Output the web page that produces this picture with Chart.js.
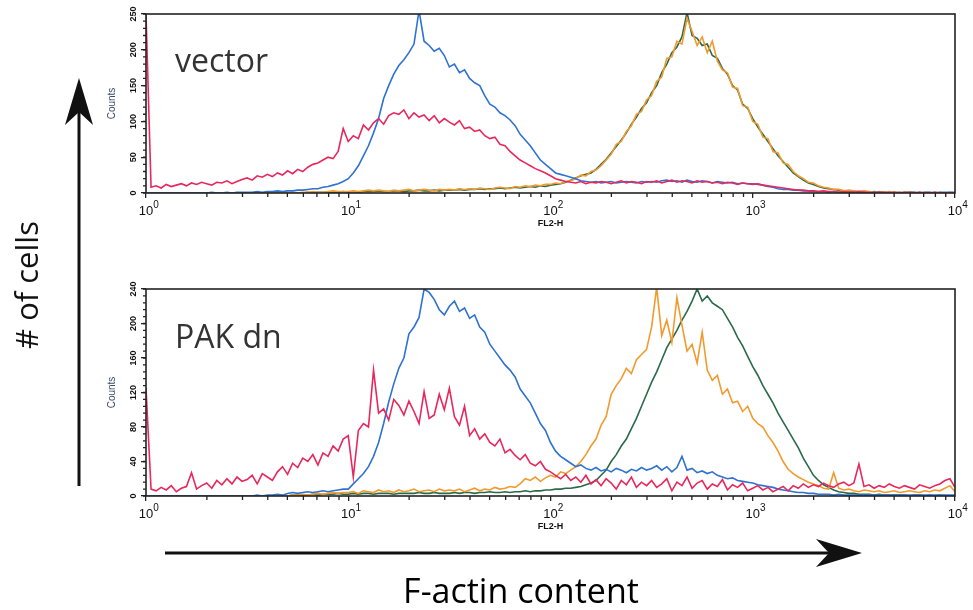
<!DOCTYPE html>
<html>
<head>
<meta charset="utf-8">
<script src="https://cdn.jsdelivr.net/npm/chart.js@4.4.1/dist/chart.umd.min.js"></script>
<style>
  html, body { margin: 0; padding: 0; background: #fff; }
  #page { position: relative; width: 973px; height: 610px; overflow: hidden; }
  canvas { position: absolute; left: 0; }
  #chart-vector { top: 0; }
  #chart-pak { top: 275px; }
  #overlay { position: absolute; left: 0; top: 0; pointer-events: none; }
  #overlay text { font-family: "Open Sans", "DejaVu Sans", sans-serif; }
</style>
</head>
<body>
<div id="page">
  <canvas id="chart-vector" width="973" height="232"></canvas>
  <canvas id="chart-pak" width="973" height="262"></canvas>
  <svg id="overlay" width="973" height="610" xmlns="http://www.w3.org/2000/svg">
    <text x="175" y="72" font-size="32" fill="#333">vector</text>
    <text x="175" y="348" font-size="32" fill="#333">PAK dn</text>
    <text transform="translate(38,285) rotate(-90)" text-anchor="middle" font-size="31" fill="#111"># of cells</text>
    <text x="521" y="603" text-anchor="middle" font-size="34" fill="#000">F-actin content</text>
    <line x1="79" y1="486" x2="79" y2="108" stroke="#111" stroke-width="3"/>
    <path d="M79,78 L93,125 L79,112 L65,125 Z" fill="#111"/>
    <line x1="165" y1="553" x2="835" y2="553" stroke="#111" stroke-width="3"/>
    <path d="M862,553 L816,539 L829,553 L816,567 Z" fill="#111"/>
  </svg>
</div>
<script>
// FL2-H histograms, 40 channels per decade, channel 0 = 10^0 ... channel 160 = 10^4
var CHANNELS_PER_DECADE = 40;
var N_CHANNELS = 161;
var DECADE_EXPONENTS = ['0', '1', '2', '3', '4'];

// vector panel (counts 0-250)
var vectorRed = [
  250, 8, 10, 7, 12, 9, 11, 13, 10, 14, 12, 15, 13, 11, 15, 14, 17, 13, 16, 19,
  21, 18, 24, 22, 26, 23, 28, 25, 31, 27, 33, 30, 36, 40, 42, 46, 50, 48, 58, 90,
  72, 80, 76, 95, 88, 98, 104, 96, 108, 112, 110, 116, 104, 112, 106, 109, 101, 108, 98, 104,
  99, 95, 101, 90, 92, 86, 88, 80, 76, 78, 68, 66, 58, 52, 46, 42, 38, 34, 31, 28,
  24, 20, 18, 16, 15, 14, 16, 13, 15, 14, 16, 15, 13, 15, 17, 14, 16, 15, 13, 16,
  15, 17, 14, 16, 18, 15, 17, 16, 14, 17, 15, 16, 14, 15, 13, 15, 14, 12, 14, 13,
  12, 13, 11, 10, 9, 8, 7, 6, 5, 4, 4, 3, 3, 2, 3, 2, 2, 1, 2, 1,
  1, 2, 1, 1, 0, 1, 1, 0, 1, 0, 1, 0, 0, 1, 0, 0, 1, 0, 0, 0,
  0
];
var vectorBlue = [
  0, 0, 0, 0, 0, 0, 0, 0, 0, 0, 0, 0, 0, 1, 0, 0, 1, 0, 1, 1,
  1, 1, 2, 1, 2, 2, 3, 2, 3, 3, 4, 4, 5, 6, 6, 8, 9, 11, 13, 16,
  20, 28, 38, 52, 66, 84, 104, 132, 150, 166, 178, 186, 196, 208, 255, 212, 206, 198, 202, 192,
  176, 180, 168, 172, 160, 154, 150, 136, 124, 120, 112, 108, 102, 94, 82, 74, 66, 56, 46, 40,
  34, 28, 26, 24, 22, 20, 17, 16, 15, 16, 14, 15, 16, 14, 15, 16, 15, 14, 16, 15,
  16, 15, 17, 18, 16, 17, 15, 18, 16, 15, 17, 16, 14, 16, 15, 14, 15, 13, 14, 13,
  13, 12, 11, 9, 8, 6, 5, 5, 4, 4, 3, 3, 2, 2, 2, 1, 2, 1, 1, 1,
  1, 1, 1, 0, 1, 1, 0, 1, 0, 1, 0, 1, 1, 0, 1, 1, 0, 1, 1, 1,
  1
];
var vectorOrange = [
  0, 0, 0, 0, 0, 0, 0, 0, 0, 0, 0, 0, 0, 0, 0, 0, 0, 0, 0, 0,
  0, 0, 0, 0, 0, 0, 0, 0, 0, 1, 0, 1, 1, 2, 1, 1, 2, 3, 2, 2,
  2, 3, 2, 3, 4, 3, 4, 3, 2, 4, 3, 4, 5, 3, 4, 5, 4, 3, 5, 4,
  5, 4, 6, 5, 6, 5, 7, 6, 5, 7, 8, 7, 6, 9, 8, 10, 9, 11, 10, 12,
  12, 14, 13, 16, 17, 20, 25, 24, 30, 32, 38, 46, 54, 68, 72, 86, 94, 110, 114, 130,
  136, 156, 162, 188, 190, 212, 208, 244, 226, 206, 218, 196, 212, 184, 172, 168, 148, 146, 122, 120,
  100, 96, 78, 76, 58, 56, 42, 40, 30, 24, 20, 15, 14, 10, 8, 7, 5, 5, 3, 4,
  3, 2, 3, 2, 1, 2, 1, 2, 1, 1, 0, 2, 1, 0, 1, 1, 0, 1, 0, 1,
  0
];
var vectorGreen = [
  0, 0, 0, 0, 0, 0, 0, 0, 0, 0, 0, 0, 0, 0, 0, 0, 0, 0, 0, 0,
  0, 0, 0, 0, 0, 0, 0, 0, 0, 0, 0, 0, 1, 0, 1, 1, 1, 1, 1, 2,
  1, 2, 1, 2, 2, 2, 3, 2, 2, 3, 3, 2, 3, 3, 4, 3, 3, 4, 3, 4,
  4, 4, 5, 4, 5, 5, 6, 5, 6, 6, 7, 6, 7, 8, 7, 8, 9, 8, 10, 9,
  11, 12, 13, 15, 18, 21, 24, 26, 28, 33, 40, 47, 56, 65, 74, 84, 96, 106, 118, 126,
  140, 150, 168, 180, 196, 204, 218, 252, 220, 216, 206, 208, 192, 188, 174, 166, 150, 144, 124, 118,
  104, 92, 82, 72, 62, 52, 44, 36, 28, 23, 18, 14, 12, 9, 7, 6, 5, 4, 3, 3,
  2, 2, 2, 1, 2, 1, 1, 1, 1, 0, 1, 1, 0, 1, 0, 0, 1, 0, 0, 0,
  0
];

// PAK dn panel (counts 0-240)
var pakRed = [
  125, 8, 6, 10, 7, 12, 5, 9, 11, 27, 8, 12, 15, 9, 18, 13, 20, 14, 22, 17,
  19, 24, 14, 26, 22, 18, 28, 34, 25, 38, 33, 44, 40, 48, 36, 50, 46, 58, 52, 66,
  70, 22, 76, 84, 80, 146, 96, 101, 88, 112, 105, 94, 110, 98, 84, 121, 90, 94, 118, 100,
  125, 92, 82, 104, 70, 78, 66, 72, 62, 58, 66, 50, 54, 47, 42, 48, 38, 35, 40, 31,
  28, 24, 20, 25, 18, 22, 16, 24, 14, 19, 12, 20, 15, 8, 18, 13, 22, 10, 16, 12,
  18, 10, 14, 20, 6, 16, 12, 22, 9, 15, 18, 8, 14, 11, 19, 7, 13, 10, 15, 6,
  9, 12, 7, 10, 5, 8, 11, 6, 12, 9, 14, 10, 13, 11, 15, 12, 10, 14, 16, 12,
  15, 37, 11, 13, 9, 12, 10, 14, 11, 9, 12, 10, 8, 13, 11, 9, 12, 14, 18, 20,
  10
];
var pakBlue = [
  0, 0, 0, 0, 0, 0, 0, 0, 0, 0, 0, 0, 0, 0, 0, 0, 0, 0, 0, 0,
  0, 0, 1, 0, 1, 1, 2, 1, 3, 4, 3, 4, 5, 4, 5, 6, 5, 6, 7, 8,
  8, 14, 20, 26, 34, 46, 62, 84, 109, 130, 148, 160, 188, 196, 207, 240, 236, 228, 216, 210,
  220, 226, 214, 218, 206, 210, 196, 190, 176, 168, 160, 152, 146, 138, 124, 116, 108, 96, 84, 76,
  62, 52, 46, 42, 38, 34, 36, 32, 30, 33, 29, 31, 28, 32, 30, 27, 31, 29, 33, 30,
  32, 35, 30, 34, 28, 33, 46, 30, 32, 27, 29, 26, 28, 24, 22, 20, 21, 18, 17, 16,
  15, 13, 12, 11, 10, 8, 7, 6, 5, 4, 4, 3, 3, 2, 2, 2, 1, 2, 1, 1,
  1, 1, 1, 1, 1, 1, 1, 1, 1, 1, 1, 1, 1, 1, 1, 1, 1, 1, 1, 1,
  1
];
var pakOrange = [
  0, 0, 0, 0, 0, 0, 0, 0, 0, 0, 0, 0, 0, 0, 0, 0, 0, 0, 0, 0,
  0, 0, 0, 0, 0, 0, 0, 1, 0, 1, 1, 2, 1, 2, 3, 2, 3, 4, 3, 4,
  4, 5, 3, 6, 5, 4, 7, 5, 6, 4, 7, 5, 6, 8, 5, 6, 7, 5, 8, 6,
  7, 6, 8, 5, 7, 9, 6, 8, 7, 10, 8, 9, 11, 10, 14, 20, 18, 22, 17, 21,
  24, 22, 28, 26, 30, 34, 40, 48, 58, 66, 82, 92, 118, 128, 136, 148, 142, 158, 164, 170,
  196, 242, 186, 204, 178, 230, 198, 168, 176, 154, 190, 146, 134, 140, 118, 124, 108, 110, 98, 104,
  90, 84, 80, 70, 62, 52, 40, 31, 26, 22, 19, 16, 14, 12, 9, 8, 27, 9, 7, 8,
  6, 5, 7, 6, 5, 6, 4, 5, 6, 4, 5, 6, 5, 4, 6, 5, 7, 6, 9, 12,
  5
];
var pakGreen = [
  0, 0, 0, 0, 0, 0, 0, 0, 0, 0, 0, 0, 0, 0, 0, 0, 0, 0, 0, 0,
  0, 0, 0, 0, 0, 0, 0, 0, 0, 1, 1, 1, 1, 2, 1, 2, 2, 2, 3, 2,
  2, 3, 2, 3, 3, 2, 3, 3, 3, 2, 3, 3, 3, 3, 4, 3, 3, 4, 3, 3,
  3, 4, 3, 4, 4, 3, 4, 4, 5, 4, 4, 5, 4, 5, 5, 6, 5, 6, 6, 7,
  7, 8, 8, 9, 9, 10, 11, 13, 15, 18, 24, 30, 40, 48, 58, 66, 78, 90, 104, 118,
  132, 144, 158, 172, 182, 192, 204, 214, 226, 240, 226, 232, 224, 220, 216, 206, 196, 184, 174, 162,
  150, 140, 128, 118, 108, 96, 86, 76, 66, 56, 44, 34, 24, 18, 13, 10, 7, 5, 4, 3,
  3, 2, 2, 2, 1, 2, 1, 1, 1, 1, 1, 0, 1, 1, 0, 1, 0, 1, 0, 0,
  0
];

var COLORS = { red: '#e8285c', blue: '#2e72d2', orange: '#f29a2e', green: '#2b6a48' };

var channels = [];
for (var c = 0; c < N_CHANNELS; c++) channels.push(c);

// frame, minor ticks, rotated count labels, 10^n labels
var flowAxesPlugin = {
  id: 'flowAxes',
  afterDraw: function (chart) {
    var ctx = chart.ctx;
    var area = chart.chartArea;
    var xs = chart.scales.x;
    var ys = chart.scales.y;
    var minorStep = chart.options.plugins.flowAxes.minorStep;
    ctx.save();
    ctx.strokeStyle = '#222';
    ctx.lineWidth = 1.6;
    ctx.strokeRect(area.left, area.top, area.right - area.left, area.bottom - area.top);

    // minor x ticks at 2..9 in each decade
    ctx.lineWidth = 1.3;
    ctx.beginPath();
    for (var d = 0; d < 4; d++) {
      for (var k = 2; k <= 9; k++) {
        var px = xs.getPixelForValue((d + Math.log10(k)) * CHANNELS_PER_DECADE);
        ctx.moveTo(px, area.bottom);
        ctx.lineTo(px, area.bottom + 4);
      }
    }
    // minor y ticks
    for (var v = 0; v <= ys.max; v += minorStep) {
      var py = ys.getPixelForValue(v);
      ctx.moveTo(area.left, py);
      ctx.lineTo(area.left - 3, py);
    }
    ctx.stroke();

    // x labels 10^n
    ctx.fillStyle = '#111';
    ctx.textBaseline = 'alphabetic';
    xs.ticks.forEach(function (t) {
      var px = xs.getPixelForValue(t.value);
      var exp = DECADE_EXPONENTS[Math.round(t.value / CHANNELS_PER_DECADE)];
      ctx.font = '13px "Liberation Sans", Arial, sans-serif';
      ctx.textAlign = 'center';
      ctx.fillText('10', px, area.bottom + 22);
      var w = ctx.measureText('10').width;
      ctx.font = '10px "Liberation Sans", Arial, sans-serif';
      ctx.textAlign = 'left';
      ctx.fillText(exp, px + w / 2, area.bottom + 15);
    });

    // y labels, rotated
    ctx.font = 'bold 9px "Liberation Sans", Arial, sans-serif';
    ctx.textAlign = 'center';
    ctx.textBaseline = 'middle';
    ys.ticks.forEach(function (t) {
      var py = ys.getPixelForValue(t.value);
      ctx.save();
      ctx.translate(area.left - 12, py);
      ctx.rotate(-Math.PI / 2);
      ctx.fillText(String(t.value), 0, 0);
      ctx.restore();
    });
    ctx.restore();
  }
};

function dataset(values, color) {
  return {
    data: values,
    borderColor: color,
    borderWidth: 1.6,
    pointRadius: 0,
    tension: 0,
    fill: false
  };
}

function makeFlowChart(canvasId, red, blue, orange, green, yMax, yStep, axisHeight) {
  var canvas = document.getElementById(canvasId);
  return new Chart(canvas.getContext('2d'), {
    type: 'line',
    data: {
      labels: channels,
      datasets: [
        dataset(red, COLORS.red),
        dataset(blue, COLORS.blue),
        dataset(orange, COLORS.orange),
        dataset(green, COLORS.green)
      ]
    },
    options: {
      responsive: false,
      animation: false,
      layout: { padding: { left: 100, right: 18, top: 14, bottom: 0 } },
      plugins: {
        legend: { display: false },
        tooltip: { enabled: false },
        flowAxes: { minorStep: yStep / 5 }
      },
      scales: {
        x: {
          type: 'linear',
          min: 0,
          max: N_CHANNELS - 1,
          ticks: { display: false, stepSize: CHANNELS_PER_DECADE },
          grid: { drawOnChartArea: false, tickLength: 5, color: '#222', lineWidth: 1.3 },
          border: { display: false },
          title: {
            display: true,
            text: 'FL2-H',
            color: '#111',
            font: { family: '"Liberation Sans", Arial, sans-serif', size: 9, weight: 'bold' },
            padding: { top: 0, bottom: axisHeight - 36 }
          },
          afterFit: function (scale) { scale.height = axisHeight; }
        },
        y: {
          min: 0,
          max: yMax,
          ticks: { display: false, stepSize: yStep },
          grid: { drawOnChartArea: false, tickLength: 5, color: '#222', lineWidth: 1.3 },
          border: { display: false },
          title: {
            display: true,
            text: 'Counts',
            color: '#3b4a6b',
            font: { family: '"Liberation Sans", Arial, sans-serif', size: 10 },
            padding: { top: 6, bottom: 0 }
          },
          afterFit: function (scale) { scale.width = 46; }
        }
      }
    },
    plugins: [flowAxesPlugin]
  });
}

makeFlowChart('chart-vector', vectorRed, vectorBlue, vectorOrange, vectorGreen, 250, 50, 39);
makeFlowChart('chart-pak', pakRed, pakBlue, pakOrange, pakGreen, 240, 40, 41);
</script>
</body>
</html>
